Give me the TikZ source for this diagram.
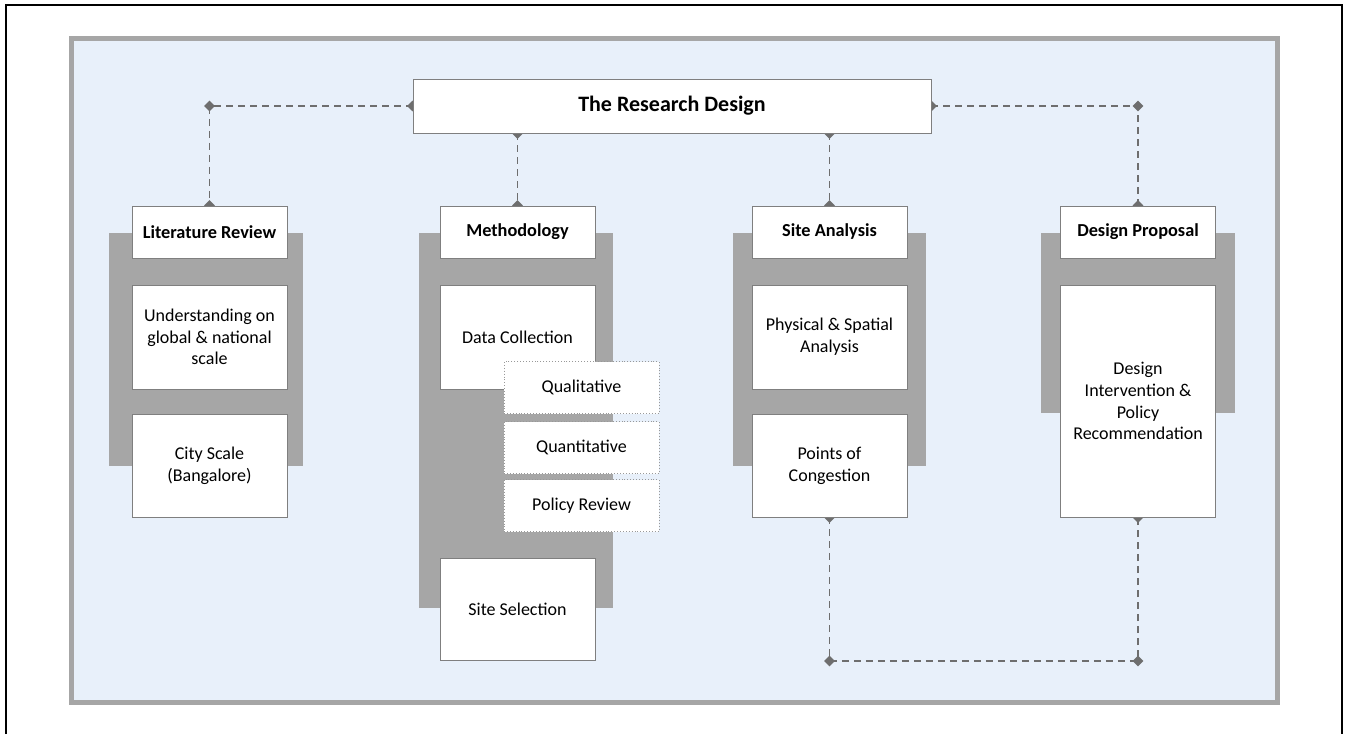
\documentclass[tikz,border=0pt]{standalone}
\usepackage{fontspec}
\setmainfont{Carlito}
\usetikzlibrary{shapes.geometric}
\definecolor{panelblue}{HTML}{E8F0FA}
\definecolor{panelgray}{HTML}{A6A6A6}
\definecolor{boxline}{HTML}{7F7F7F}
\definecolor{linegray}{HTML}{6E6E6E}
\pgfdeclarelayer{back}
\pgfdeclarelayer{mid}
\pgfsetlayers{back,mid,main}
\tikzset{
  box/.style={draw=boxline, line width=0.9pt, fill=white, rectangle, inner sep=0pt,
    minimum width=155pt, align=center, font=\fontsize{18}{21.8}\selectfont},
  headbox/.style={box, minimum height=52pt, font=\fontsize{18.3}{21.8}\selectfont\bfseries},
  subbox/.style={box, draw=boxline!80, dotted, line width=0.8pt, minimum height=52pt},
  bracket/.style={fill=panelgray, draw=none},
  conn/.style={draw=linegray, line width=1.6pt, dash pattern=on 7pt off 5pt},
  dmark/.style={shape=diamond, fill=linegray, draw=none, inner sep=0pt, minimum width=11pt, minimum height=11pt}
}
\begin{document}
\begin{tikzpicture}[x=1pt,y=-1pt]
\useasboundingbox (0,0) rectangle (1346,734);
\begin{pgfonlayer}{back}
  \fill[white] (0,0) rectangle (1346,734);
  \draw[black, line width=1.2pt] (6,734) -- (6,5) -- (1342,5) -- (1342,734);
  \draw[panelgray, line width=5pt, fill=panelblue] (71.5,38.5) rectangle (1277.5,702.5);
  % brackets
  \fill[bracket] (109,233) rectangle (303,466);
  \fill[bracket] (419,233) rectangle (613,608);
  \fill[bracket] (733,233) rectangle (926,466);
  \fill[bracket] (1041,233) rectangle (1235,413);
\end{pgfonlayer}

% title
\node[box, minimum width=518pt, minimum height=54pt, font=\fontsize{22}{26}\selectfont\bfseries] (title) at (672,106) {The Research Design};

% Literature Review
\node[headbox] (lit) at (209.5,232) {Literature Review};
\node[box, minimum height=104pt] (lit1) at (209.5,337) {Understanding on\\global \& national\\scale};
\node[box, minimum height=103pt] (lit2) at (209.5,465.5) {City Scale\\(Bangalore)};

% Methodology
\node[headbox] (meth) at (517.5,232) {Methodology};
\node[box, minimum height=104pt] (meth1) at (517.5,337) {Data Collection};
\node[subbox] (qual) at (581.5,387.5) {Qualitative};
\node[subbox] (quan) at (581.5,447.5) {Quantitative};
\node[subbox] (pol) at (581.5,505.5) {Policy Review};
\node[box, minimum height=102pt] (meth2) at (517.5,609) {Site Selection};

% Site Analysis
\node[headbox] (site) at (829.5,232) {Site Analysis};
\node[box, minimum height=104pt] (site1) at (829.5,337) {Physical \& Spatial\\Analysis};
\node[box, minimum height=103pt] (site2) at (829.5,465.5) {Points of\\Congestion};

% Design Proposal
\node[headbox] (des) at (1138,232) {Design Proposal};
\node[box, minimum height=232pt] (des1) at (1138,401) {Design\\Intervention \&\\Policy\\Recommendation};

\begin{pgfonlayer}{mid}
  \coordinate (tl) at (lit.north |- title.west);
  \coordinate (tr) at (des.north |- title.east);
  \coordinate (bl) at (829.5,661);
  \coordinate (br) at (1138,661);
  \draw[conn] (title.west) -- (tl) -- (lit.north);
  \draw[conn] (title.east) -- (tr) -- (des.north);
  \draw[conn] (title.south -| meth.north) -- (meth.north);
  \draw[conn] (title.south -| site.north) -- (site.north);
  \draw[conn] (site2.south) -- (bl) -- (br) -- (des1.south);
  \foreach \p in {title.west, title.east, tl, tr, lit.north, des.north, meth.north, site.north, site2.south, des1.south, bl, br}
    \node[dmark] at (\p) {};
  \node[dmark] at (title.south -| meth.north) {};
  \node[dmark] at (title.south -| site.north) {};
\end{pgfonlayer}
\end{tikzpicture}
\end{document}
